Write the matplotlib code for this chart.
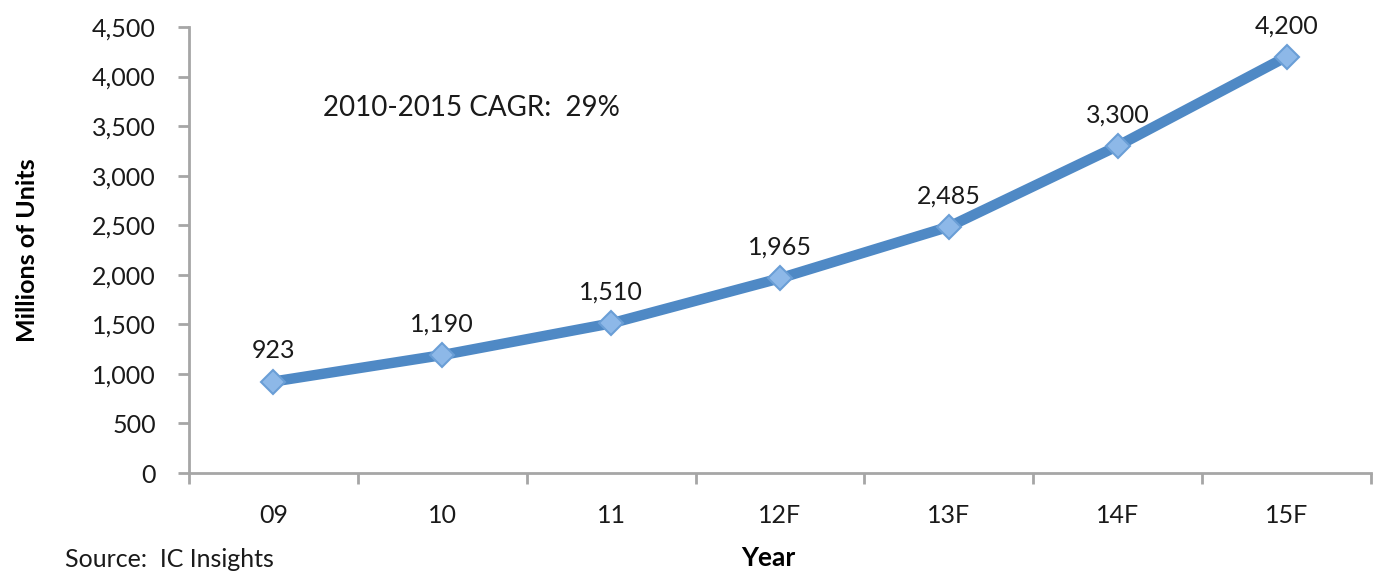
import matplotlib.pyplot as plt
from matplotlib.ticker import FuncFormatter

years = ['09', '10', '11', '12F', '13F', '14F', '15F']
units = [923, 1190, 1510, 1965, 2485, 3300, 4200]
labels = ['923', '1,190', '1,510', '1,965', '2,485', '3,300', '4,200']

plt.rcParams['font.family'] = ['Lato', 'DejaVu Sans']

fig = plt.figure(figsize=(13.77, 5.71), dpi=100)
ax = fig.add_axes([0.1373, 0.1716, 0.8583, 0.7811])

x = list(range(len(years)))
ax.plot(x, units, color='#4F89C5', lw=7.5, solid_capstyle='round', zorder=2)
ax.plot(x, units, ls='none', marker='D', ms=12, mfc='#8DB8E8', mec='#6A9ED6',
        mew=1.5, zorder=3)

for xi, yi, lab in zip(x, units, labels):
    ax.annotate(lab, (xi, yi), xytext=(0, 14), textcoords='offset points',
                ha='center', va='bottom', fontsize=18, color='#1a1a1a')

ax.text(0.113, 0.80, '2010-2015 CAGR:  29%', transform=ax.transAxes,
        fontsize=20, color='#1a1a1a')

ax.set_xlim(-0.5, len(years) - 0.5)
ax.set_ylim(0, 4500)
ax.set_yticks(range(0, 4501, 500))
ax.yaxis.set_major_formatter(FuncFormatter(lambda v, p: f'{int(v):,}'))
ax.set_xticks(x)
ax.set_xticklabels(years)
ax.set_xticks([i - 0.5 for i in range(len(years) + 1)], minor=True)

for s in ['top', 'right']:
    ax.spines[s].set_visible(False)
for s in ['left', 'bottom']:
    ax.spines[s].set_color('#A6A6A6')
    ax.spines[s].set_linewidth(2)

ax.tick_params(axis='y', length=8, width=2, color='#A6A6A6', labelsize=18,
               labelcolor='#1a1a1a', pad=16)
ax.tick_params(axis='x', which='major', length=0, labelsize=18,
               labelcolor='#1a1a1a', pad=22)
ax.tick_params(axis='x', which='minor', length=8, width=2, color='#A6A6A6')

ax.set_ylabel('Millions of Units', fontsize=18, fontweight='bold', labelpad=38)
fig.text(0.558, 0.002, 'Year', fontsize=19, fontweight='bold', ha='center',
         va='bottom')
fig.text(0.047, 0.0, 'Source:  IC Insights', fontsize=18, color='#1a1a1a',
         va='bottom')

fig.savefig('out.png', dpi=100)
